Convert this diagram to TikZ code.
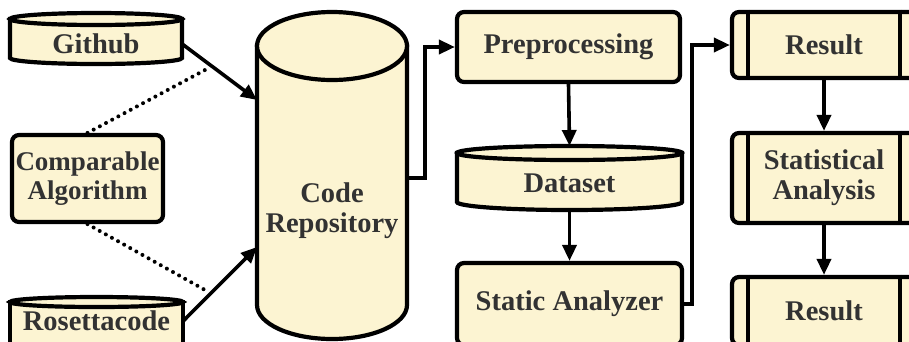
\documentclass[tikz,border=0pt]{standalone}
\usepackage{fontspec}
\setmainfont{Liberation Serif}
\usetikzlibrary{arrows.meta,calc}
\definecolor{cream}{RGB}{252,244,210}
\definecolor{ink}{RGB}{50,50,50}
\begin{document}
\begin{tikzpicture}[x=1pt,y=-1pt,
  lbl/.style={font=\fontsize{28.5}{30}\selectfont\bfseries, text=ink, align=center, inner sep=0pt},
  shapeline/.style={draw=black, line width=4.2pt, fill=cream},
  rbox/.style={shapeline, rounded corners=7pt},
  conn/.style={line width=3.6pt, -{Triangle[length=16pt,width=14pt]}},
  dots/.style={line width=4pt, line cap=round, dash pattern=on 0pt off 7pt},
]
\useasboundingbox (0,0) rectangle (909,341);
\clip (0,0) rectangle (909,341);
\fill[white] (0,0) rectangle (909,341);

% Github (flat cylinder)
\draw[shapeline] (10,19) -- (10,58) arc[start angle=180,end angle=0,x radius=86,y radius=6] -- (182,19) -- cycle;
\draw[shapeline] (96,19) ellipse [x radius=86, y radius=6];
\node[lbl, minimum width=172] (github) at (96,44) {Github};

% Comparable Algorithm
\node[rbox, lbl, font=\fontsize{27}{29}\selectfont\bfseries, minimum width=151, minimum height=87] (comp) at (87.5,178.5) {Comparable\\Algorithm};

% Rosettacode (flat cylinder, cut by the frame)
\draw[shapeline] (10,302) -- (10,360) -- (183,360) -- (183,302) -- cycle;
\draw[shapeline] (96.5,302) ellipse [x radius=86.5, y radius=5];
\node[lbl, minimum width=173] (rosetta) at (96.5,321) {Rosettacode};

% Code Repository (tall cylinder)
\draw[shapeline] (257,46) -- (257,305) arc[start angle=180,end angle=0,x radius=75,y radius=34] -- (407,46) -- cycle;
\draw[shapeline] (332,46) ellipse [x radius=75, y radius=34];
\node[lbl] (repo) at (332,211) {Code\\Repository};
\coordinate (repoA) at (257,100);
\coordinate (repoB) at (257,247);
\coordinate (repoC) at (407,178);

% Preprocessing
\node[rbox, lbl, minimum width=223, minimum height=70] (pre) at (568.5,47) {Preprocessing};

% Dataset (flat cylinder)
\draw[shapeline] (457,153) -- (457,202) arc[start angle=180,end angle=0,x radius=112.5,y radius=8] -- (682,153) -- cycle;
\draw[shapeline] (569.5,153) ellipse [x radius=112.5, y radius=7];
\node[lbl, minimum width=225] (data) at (569.5,183) {Dataset};
\coordinate (dataTop) at (569.5,146);
\coordinate (dataBot) at (569.5,210);

% Static Analyzer
\node[rbox, lbl, minimum width=225, minimum height=82] (sa) at (569.5,304) {Static Analyzer};

% Result / Statistical Analysis / Result
\node[rbox, lbl, minimum width=184, minimum height=66] (r1) at (824,45) {Result};
\node[rbox, lbl, minimum width=184, minimum height=90] (stat) at (824,178) {Statistical\\Analysis};
\node[rbox, lbl, minimum width=184, minimum height=68] (r2) at (824,311) {Result};
\foreach \n in {r1,stat,r2}{
  \draw[line width=4.2pt] ([xshift=18pt]\n.north west) -- ([xshift=18pt]\n.south west);
  \draw[line width=4.2pt] ([xshift=-18pt]\n.north east) -- ([xshift=-18pt]\n.south east);
}

% dotted links
\coordinate (dotA) at (205,70);
\coordinate (dotB) at (205,290);
\draw[dots] (comp.north) -- (dotA);
\draw[dots] (comp.south) -- (dotB);

% connectors
\draw[conn] (github.east) -- (repoA);
\draw[conn] (rosetta.east) -- (repoB);
\draw[conn] (repoC) -- ++(18,0) |- (pre.west);
\draw[conn] (pre.south) -- (dataTop);
\draw[conn] (dataBot) -- (sa.north);
\draw[conn] (sa.east) -- ++(8,0) |- (r1.west);
\draw[conn] (r1.south) -- (stat.north);
\draw[conn] (stat.south) -- (r2.north);
\end{tikzpicture}
\end{document}
